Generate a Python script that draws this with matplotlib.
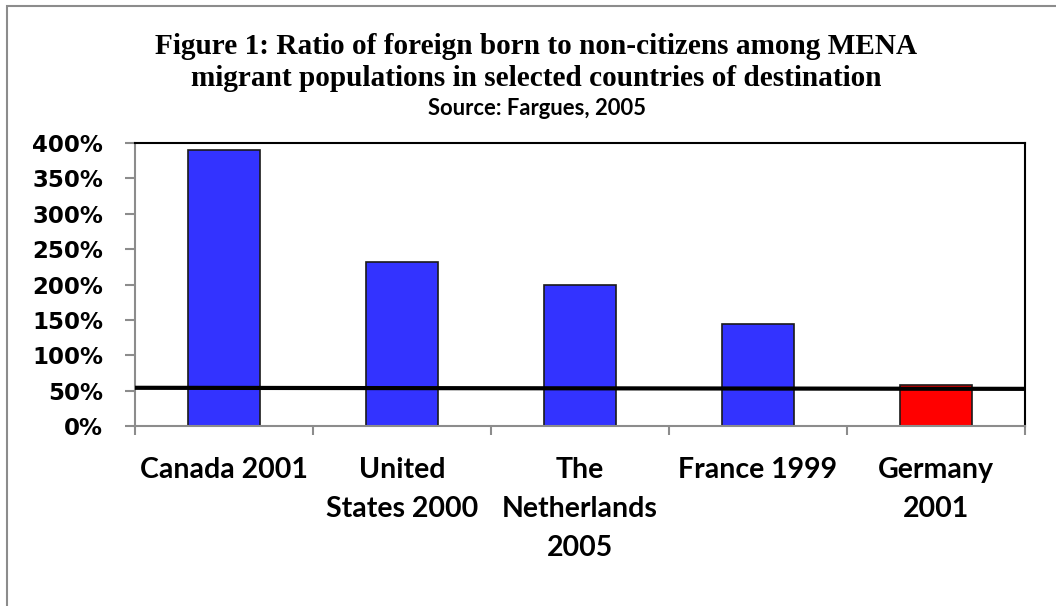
import matplotlib
matplotlib.use("Agg")
import matplotlib.pyplot as plt
from matplotlib.patches import Rectangle
from matplotlib.ticker import FuncFormatter

categories = ["Canada 2001", "United\nStates 2000", "The\nNetherlands\n2005", "France 1999", "Germany\n2001"]
ratios = [390.5, 231.5, 199, 144, 58.6]
bar_colors = ["#3333FF", "#3333FF", "#3333FF", "#3333FF", "#FF0000"]
ref_line = [54, 52.5]
yticks = [0, 50, 100, 150, 200, 250, 300, 350, 400]

W, H = 1056, 606
PX = 72 / 100  # points per pixel at dpi 100
fig = plt.figure(figsize=(W / 100, H / 100), dpi=100)
fig.patch.set_facecolor("white")

# outer chart border
fig.add_artist(Rectangle((7 / W, -0.1), 1.2, 1 - 6 / H + 0.1, transform=fig.transFigure,
                         fill=False, edgecolor="#8c8c8c", linewidth=1.5))

ax = fig.add_axes([135 / W, 1 - 426 / H, (1025 - 135) / W, (426 - 143) / H])
x = list(range(len(categories)))
ax.bar(x, ratios, width=0.4, color=bar_colors, edgecolor="#1a1a1a", linewidth=1.2, zorder=2)
ax.plot([-0.5, len(categories) - 0.5], ref_line, color="black", linewidth=3, zorder=3,
        solid_capstyle="butt")

ax.set_xlim(-0.5, len(categories) - 0.5)
ax.set_ylim(0, 400)
ax.set_yticks(yticks)
ax.yaxis.set_major_formatter(FuncFormatter(lambda v, p: f"{int(v)}%"))
ax.set_xticks(x)
ax.set_xticklabels(categories, fontfamily="Lato", fontweight="bold", fontsize=20.5,
                   linespacing=1.63, va="top")
ax.set_xticks([i - 0.5 for i in range(len(categories) + 1)], minor=True)
ax.tick_params(axis="x", which="major", length=0, pad=22)
ax.tick_params(axis="x", which="minor", length=9 * PX, width=1.5, color="#8c8c8c", direction="out")
ax.tick_params(axis="y", length=10 * PX, width=1.5, color="#8c8c8c", direction="out",
               pad=22 * PX, labelsize=16.5)
for lab in ax.get_yticklabels():
    lab.set_fontweight("bold")
    lab.set_fontfamily("DejaVu Sans")

for s in ["left", "bottom"]:
    ax.spines[s].set_color("#8c8c8c")
    ax.spines[s].set_linewidth(1.5)
for s in ["top", "right"]:
    ax.spines[s].set_color("black")
    ax.spines[s].set_linewidth(1.5)

tx = 536.5 / W
fig.text(tx, 1 - 54 / H, "Figure 1: Ratio of foreign born to non-citizens among MENA",
         ha="center", va="baseline", fontfamily="Liberation Serif", fontweight="bold", fontsize=21.1)
fig.text(tx, 1 - 86 / H, "migrant populations in selected countries of destination",
         ha="center", va="baseline", fontfamily="Liberation Serif", fontweight="bold", fontsize=21.1)
fig.text(tx, 1 - 115 / H, "Source: Fargues, 2005",
         ha="center", va="baseline", fontfamily="Lato", fontweight="bold", fontsize=15.8)

fig.savefig("out.png", dpi=100)
